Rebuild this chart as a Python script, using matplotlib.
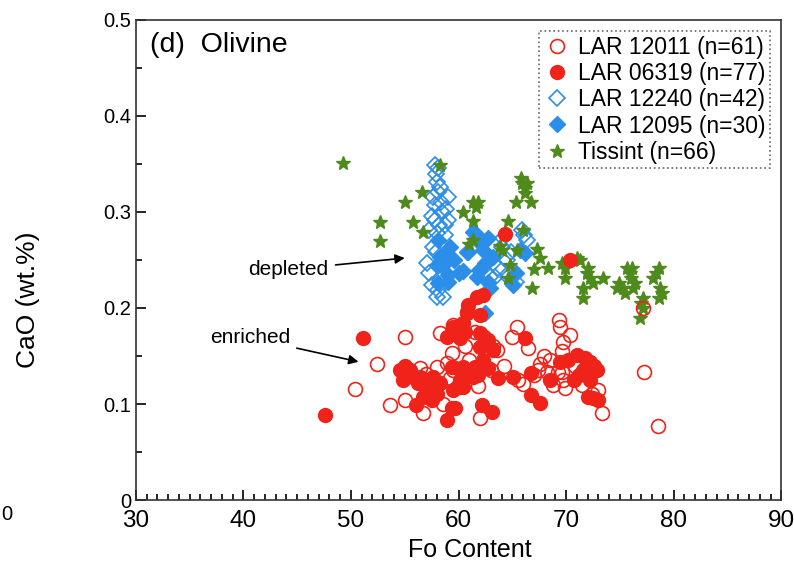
import numpy as np
import matplotlib.pyplot as plt
from matplotlib.ticker import MultipleLocator, FuncFormatter

plt.rcParams['font.family'] = ['Liberation Sans', 'DejaVu Sans']

# LAR 12011 (open red circles)
lar12011_fo = [55.0, 52.4, 50.4, 53.6, 55.0, 56.7, 58.3, 59.5, 60.4, 59.4, 58.9, 59.2, 62.0,
               59.7, 60.3, 61.5, 63.2, 63.6, 65.4, 65.0, 66.5, 69.3, 69.4, 70.4, 69.7, 69.6,
               67.9, 67.6, 68.5, 67.4, 68.2, 69.6, 69.7, 69.9, 69.2, 73.3, 77.2, 78.5, 77.1,
               59.5, 60.3, 55.6, 57.0, 58.0, 61.0, 61.8, 63.0, 66.0, 67.0, 70.8, 71.5, 72.4,
               73.0, 56.4, 58.6, 60.6, 62.4, 64.2, 68.8, 65.5, 57.3]
lar12011_cao = [0.170, 0.142, 0.116, 0.099, 0.104, 0.091, 0.174, 0.182, 0.174, 0.153, 0.143, 0.127, 0.085,
                0.180, 0.175, 0.175, 0.160, 0.156, 0.180, 0.170, 0.158, 0.188, 0.180, 0.172, 0.165, 0.155,
                0.150, 0.142, 0.146, 0.135, 0.133, 0.133, 0.125, 0.117, 0.133, 0.091, 0.133, 0.077, 0.200,
                0.135, 0.125, 0.131, 0.131, 0.139, 0.146, 0.119, 0.135, 0.121, 0.130, 0.140, 0.120, 0.110,
                0.115, 0.138, 0.100, 0.160, 0.170, 0.140, 0.120, 0.125, 0.125]

# LAR 06319 (filled red circles)
lar06319_fo = [51.1, 47.6, 54.6, 55.5, 54.8, 55.8, 56.4, 57.6, 58.3, 57.6, 56.7, 56.0, 57.5, 58.9,
               59.4, 58.9, 59.4, 60.1, 59.4, 60.4, 59.9, 60.4, 60.8, 60.4, 61.7, 62.3, 60.9, 62.0,
               60.8, 59.5, 62.0, 62.7, 63.2, 62.0, 59.5, 60.4, 61.5, 62.3, 62.7, 63.7, 61.3, 60.1,
               59.5, 60.1, 59.7, 62.2, 63.1, 65.1, 66.7, 66.2, 66.7, 67.6, 68.5, 69.4, 70.2, 71.0,
               71.8, 72.2, 71.6, 72.9, 72.2, 70.7, 72.0, 72.5, 73.0, 64.3, 70.4, 55.2, 56.2, 57.0,
               58.0, 61.0, 61.8, 60.6, 72.6, 71.2, 55.0]
lar06319_cao = [0.169, 0.089, 0.135, 0.135, 0.125, 0.128, 0.128, 0.128, 0.122, 0.115, 0.107, 0.099, 0.104, 0.083,
                0.096, 0.170, 0.175, 0.169, 0.139, 0.138, 0.118, 0.118, 0.195, 0.184, 0.211, 0.214, 0.203, 0.193,
                0.196, 0.180, 0.174, 0.167, 0.156, 0.159, 0.139, 0.139, 0.139, 0.146, 0.138, 0.127, 0.128, 0.125,
                0.115, 0.118, 0.096, 0.099, 0.092, 0.128, 0.132, 0.169, 0.109, 0.101, 0.125, 0.144, 0.146, 0.151,
                0.148, 0.144, 0.135, 0.135, 0.125, 0.125, 0.107, 0.106, 0.104, 0.277, 0.250, 0.130, 0.122, 0.118,
                0.110, 0.135, 0.130, 0.175, 0.140, 0.130, 0.140]

# LAR 12240 (open blue diamonds)
lar12240_fo = [57.8, 58.1, 58.0, 58.1, 59.0, 57.8, 58.5, 59.0, 57.8, 58.7, 57.3, 58.0, 58.7, 57.1,
               57.3, 57.5, 58.1, 58.6, 58.0, 57.6, 65.9, 66.4, 64.1, 64.0, 64.5, 63.7, 63.4, 65.3,
               63.2, 64.6, 62.9, 57.9, 58.3, 57.6, 58.4, 58.8, 57.5, 58.2, 57.9, 58.3, 64.9, 66.1]
lar12240_cao = [0.349, 0.346, 0.331, 0.321, 0.316, 0.307, 0.300, 0.292, 0.292, 0.286, 0.281, 0.278, 0.276, 0.247,
                0.236, 0.224, 0.219, 0.211, 0.211, 0.264, 0.281, 0.271, 0.273, 0.264, 0.250, 0.242, 0.232, 0.227,
                0.247, 0.232, 0.232, 0.340, 0.326, 0.316, 0.310, 0.303, 0.296, 0.286, 0.258, 0.229, 0.258, 0.276]

# LAR 12095 (filled blue diamonds)
lar12095_fo = [58.1, 59.2, 58.3, 58.6, 59.0, 60.0, 58.1, 59.0, 61.7, 60.9, 58.0, 61.3, 62.7, 60.8, 62.3,
               63.2, 62.5, 61.7, 62.7, 62.9, 65.3, 65.1, 66.2, 65.7, 60.4, 62.5, 58.8, 62.0, 61.9, 59.6]
lar12095_cao = [0.271, 0.264, 0.253, 0.245, 0.234, 0.236, 0.226, 0.227, 0.276, 0.258, 0.245, 0.279, 0.273, 0.258, 0.260,
                0.253, 0.247, 0.232, 0.227, 0.221, 0.236, 0.224, 0.257, 0.260, 0.238, 0.195, 0.258, 0.268, 0.240, 0.250]

# Tissint (green stars)
tissint_fo = [49.3, 52.7, 52.7, 55.0, 56.6, 55.8, 56.7, 58.3, 60.4, 61.3, 61.8, 61.3, 61.3, 64.6, 64.6,
              64.0, 65.3, 65.9, 66.4, 66.2, 66.7, 66.0, 65.4, 67.3, 67.6, 68.3, 66.8, 69.9, 69.9, 71.0,
              71.3, 72.0, 72.2, 73.4, 71.6, 71.6, 74.7, 75.3, 75.7, 76.1, 76.0, 76.2, 77.1, 77.1, 76.9,
              78.6, 78.1, 78.7, 78.6, 66.2, 65.8, 75.9, 76.4, 78.4, 78.9, 75.5, 71.9, 69.6, 64.8, 63.9,
              67.0, 61.6, 77.0, 72.5, 74.9, 61.0]
tissint_cao = [0.351, 0.290, 0.270, 0.310, 0.321, 0.290, 0.279, 0.349, 0.300, 0.310, 0.310, 0.291, 0.271, 0.291, 0.231,
               0.260, 0.310, 0.330, 0.330, 0.320, 0.310, 0.281, 0.260, 0.261, 0.252, 0.242, 0.221, 0.242, 0.231, 0.252,
               0.250, 0.242, 0.231, 0.231, 0.221, 0.210, 0.221, 0.221, 0.242, 0.242, 0.231, 0.221, 0.210, 0.200, 0.190,
               0.242, 0.231, 0.221, 0.210, 0.325, 0.335, 0.236, 0.226, 0.236, 0.216, 0.216, 0.236, 0.247, 0.245, 0.265,
               0.241, 0.305, 0.205, 0.226, 0.226, 0.267]

red = '#f0231a'
blue = '#2b8ee8'
green = '#4f8a1c'

fig, ax = plt.subplots(figsize=(7.94, 5.67), dpi=100)
fig.subplots_adjust(left=0.171, right=0.984, bottom=0.118, top=0.965)

ax.plot(lar12240_fo, lar12240_cao, 'D', ms=8, mfc='none', mec=blue, mew=1.2, ls='none',
        label='LAR 12240 (n=42)', zorder=2)
ax.plot(lar12095_fo, lar12095_cao, 'D', ms=8, mfc=blue, mec=blue, ls='none',
        label='LAR 12095 (n=30)', zorder=3)
ax.plot(tissint_fo, tissint_cao, '*', ms=10, mfc=green, mec=green, ls='none',
        label='Tissint (n=66)', zorder=4)
ax.plot(lar12011_fo, lar12011_cao, 'o', ms=10, mfc='none', mec=red, mew=1.2, ls='none',
        label='LAR 12011 (n=61)', zorder=5)
ax.plot(lar06319_fo, lar06319_cao, 'o', ms=10, mfc=red, mec=red, ls='none',
        label='LAR 06319 (n=77)', zorder=6)

ax.set_xlim(30, 90)
ax.set_ylim(0, 0.5)
ax.xaxis.set_major_locator(MultipleLocator(10))
ax.xaxis.set_minor_locator(MultipleLocator(1))
ax.yaxis.set_major_locator(MultipleLocator(0.1))
ax.yaxis.set_minor_locator(MultipleLocator(0.05))
ax.yaxis.set_major_formatter(FuncFormatter(lambda v, p: '0' if abs(v) < 1e-9 else f'{v:.1f}'))
ax.tick_params(which='both', direction='in', top=False, right=False, width=1.2)
ax.tick_params(axis='y', labelsize=14.5)
ax.tick_params(axis='x', labelsize=17.5, pad=7)
ax.tick_params(which='major', length=7)
ax.tick_params(which='minor', length=4)
for s in ax.spines.values():
    s.set_linewidth(1.2)
    s.set_color('#333333')

ax.set_xlabel('Fo Content', fontsize=18, va='center')
ax.xaxis.set_label_coords(0.518, -0.104)
ax.set_ylabel('CaO (wt.%)', fontsize=19, va='center')
ax.yaxis.set_label_coords(-0.167, 0.417)

ax.text(0.022, 0.948, '(d)  Olivine', transform=ax.transAxes, fontsize=20.5, va='center')

ax.annotate('depleted', xy=(55.0, 0.252), xytext=(44.2, 0.240), fontsize=15, ha='center', va='center',
            arrowprops=dict(arrowstyle='-|>', color='black', lw=1.2, shrinkA=3, shrinkB=0,
                            mutation_scale=14))
ax.annotate('enriched', xy=(50.7, 0.144), xytext=(40.6, 0.169), fontsize=15, ha='center', va='center',
            arrowprops=dict(arrowstyle='-|>', color='black', lw=1.2, shrinkA=3, shrinkB=0,
                            mutation_scale=14))

handles, labels = ax.get_legend_handles_labels()
order = [3, 4, 0, 1, 2]
leg = ax.legend([handles[i] for i in order], [labels[i] for i in order], loc='upper right',
                fontsize=16.5, handletextpad=0.3, labelspacing=0.14, borderpad=0.2,
                handlelength=1.2, fancybox=False, framealpha=1, borderaxespad=0.5)
leg.get_frame().set_linestyle(':')
leg.get_frame().set_edgecolor('#666666')
leg.get_frame().set_linewidth(1.2)

fig.text(0.002, 1 - 515 / 567, '0', fontsize=14.5, va='center')

fig.savefig('out.png', dpi=100)
